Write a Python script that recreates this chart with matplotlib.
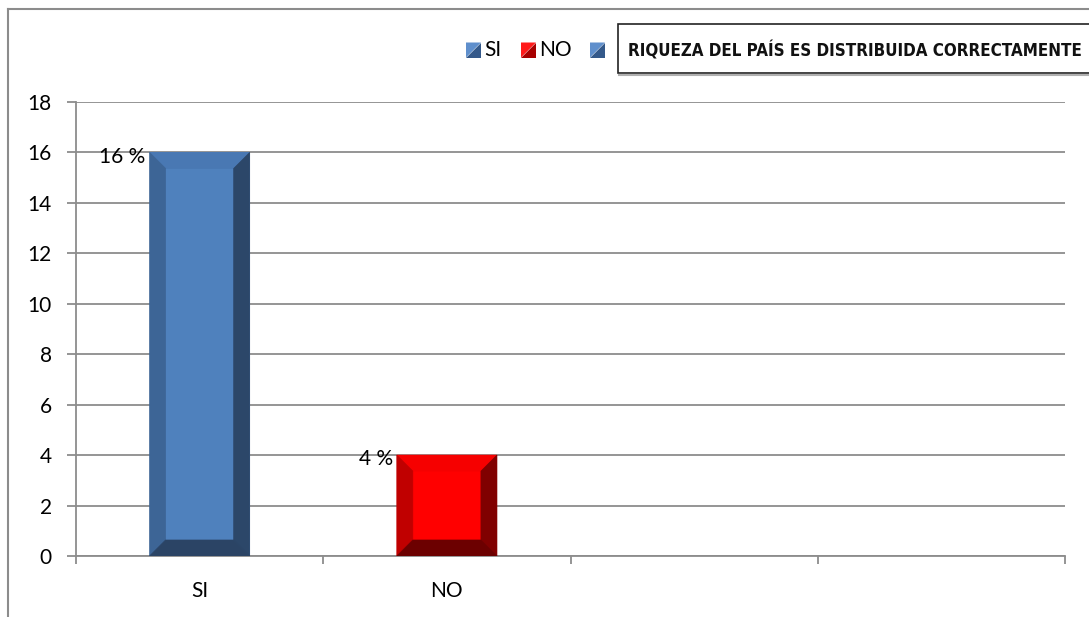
import numpy as np
import matplotlib
matplotlib.use("Agg")
import matplotlib.pyplot as plt
from matplotlib import font_manager
from matplotlib.font_manager import FontProperties
from matplotlib.patches import Polygon, Rectangle
from matplotlib.lines import Line2D
from matplotlib.transforms import IdentityTransform

# ---- data ----
categories = ["SI", "NO", "", ""]
values = [16, 4, np.nan, np.nan]
value_labels = ["16 %", "4 %", "", ""]
legend_labels = ["SI", "NO", ""]
title_text = "RIQUEZA DEL PAÍS ES DISTRIBUIDA CORRECTAMENTE"
yticks = [0, 2, 4, 6, 8, 10, 12, 14, 16, 18]

W, H = 1089, 617
fig = plt.figure(figsize=(W / 100, H / 100), dpi=100)
fig.patch.set_facecolor("white")

avail = {f.name for f in font_manager.fontManager.ttflist}
base_font = "Lato" if "Lato" in avail else "DejaVu Sans"

# find a condensed / narrow bold face if one is installed
title_props = None
for f in font_manager.fontManager.ttflist:
    n = f.name.lower()
    fn = f.fname.lower()
    if ("narrow" in n or "condensed" in n or "condensed" in fn or "narrow" in fn) and \
       (f.weight in ("bold", 700) or "bold" in fn) and "oblique" not in fn and "italic" not in fn:
        title_props = FontProperties(fname=f.fname)
        break
if title_props is None:
    for fam in ["Liberation Sans", "Roboto", "DejaVu Sans"]:
        if fam in avail:
            title_props = FontProperties(family=fam, weight="bold")
            break

def fx(px):
    return px / W

def fy(py):
    return 1 - py / H

ax = fig.add_axes([fx(76), fy(556), (1065 - 76) / W, (556 - 102) / H])
ax.set_xlim(-0.5, len(categories) - 0.5)
ax.set_ylim(0, 18)

gray = "#8c8c8c"
face_cols = ["#4f81bd", "#ff0000"]
bevels = [
    dict(top="#4978b3", left="#3d6596", right="#2c4769", bottom="#2b4465"),
    dict(top="#f60000", left="#c00000", right="#800000", bottom="#6c0000"),
]

x = np.arange(len(categories))
bars = ax.bar(x[:2], values[:2], width=0.405, color=face_cols, zorder=3, linewidth=0)

fs = 15
# grid & axes
ax.set_yticks(yticks)
ax.yaxis.grid(True, color=gray, linewidth=1.3, zorder=0)
ax.set_axisbelow(True)
for s in ["top", "right"]:
    ax.spines[s].set_visible(False)
for s in ["left", "bottom"]:
    ax.spines[s].set_color(gray)
    ax.spines[s].set_linewidth(1.3)
ax.tick_params(axis="y", length=6.5, width=1.3, color=gray, pad=11,
               labelsize=fs, labelcolor="black")
for t in ax.get_yticklabels():
    t.set_fontfamily(base_font)

ax.set_xticks(np.arange(-0.5, len(categories), 1.0))
ax.set_xticklabels([])
ax.tick_params(axis="x", which="major", length=6, width=1.3, color=gray)
ax.set_xticks(x, minor=True)
ax.set_xticklabels(categories, minor=True, fontsize=fs, fontfamily=base_font)
ax.tick_params(axis="x", which="minor", length=0, pad=18)

# bevels
fig.canvas.draw()
bw = 16
for b, bev in zip(bars, bevels):
    (x0, y0), (x1, y1) = ax.transData.transform([(b.get_x(), 0), (b.get_x() + b.get_width(), b.get_height())])
    ix0, ix1, iy0, iy1 = x0 + bw, x1 - bw, y0 + bw, y1 - bw
    polys = [
        ([(x0, y1), (x1, y1), (ix1, iy1), (ix0, iy1)], bev["top"]),
        ([(x0, y0), (ix0, iy0), (ix0, iy1), (x0, y1)], bev["left"]),
        ([(x1, y0), (x1, y1), (ix1, iy1), (ix1, iy0)], bev["right"]),
        ([(x0, y0), (x1, y0), (ix1, iy0), (ix0, iy0)], bev["bottom"]),
    ]
    for pts, c in polys:
        ax.add_patch(Polygon(pts, closed=True, facecolor=c, edgecolor=c, linewidth=0.5,
                             transform=IdentityTransform(), zorder=4))

# value labels
for b, lab in zip(bars, value_labels):
    ax.annotate(lab, (b.get_x(), b.get_height()), xytext=(-3, -3), textcoords="offset points",
                ha="right", va="center", fontsize=fs, fontfamily=base_font, zorder=5)

# outer border
fig.add_artist(Line2D([fx(7.5), fx(7.5)], [fy(8.5), 0], transform=fig.transFigure, color=gray, lw=1.5))
fig.add_artist(Line2D([fx(7.5), 1], [fy(8.5), fy(8.5)], transform=fig.transFigure, color=gray, lw=1.5))

# legend markers
leg_cols = [("#5f8fcc", "#34598a"), ("#ff1a1a", "#a80000"), ("#5f8fcc", "#34598a")]
leg_x = [466, 521, 590]
ms = 15
cy = 50
for lx, (c1, c2), lab in zip(leg_x, leg_cols, legend_labels):
    xa, xb = lx, lx + ms
    ya, yb = cy - ms / 2, cy + ms / 2
    fig.add_artist(Polygon([(fx(xa), fy(ya)), (fx(xb), fy(ya)), (fx(xa), fy(yb))], closed=True,
                           transform=fig.transFigure, facecolor=c1, edgecolor="none"))
    fig.add_artist(Polygon([(fx(xb), fy(ya)), (fx(xb), fy(yb)), (fx(xa), fy(yb))], closed=True,
                           transform=fig.transFigure, facecolor=c2, edgecolor="none"))
    if lab:
        fig.text(fx(xb + 3), fy(cy), lab, ha="left", va="center", fontsize=fs, fontfamily=base_font)

# title box
fig.add_artist(Line2D([fx(619), 1], [fy(74.5), fy(74.5)], transform=fig.transFigure, color="#b0b0b0", lw=1.5))
fig.add_artist(Rectangle((fx(618), fy(73)), fx(500), fy(24) - fy(73), transform=fig.transFigure,
                         facecolor="white", edgecolor="#222222", lw=1.2))
title_props.set_size(16)
tt = fig.text(fx(628), fy(51), title_text, ha="left", va="center",
              fontproperties=title_props, color="#111111")
fig.canvas.draw()
bb = tt.get_window_extent()
target = 1084 - 628
new_size = min(24, 16 * target / bb.width)
tt.set_fontsize(new_size)

fig.savefig("out.png", dpi=100)
